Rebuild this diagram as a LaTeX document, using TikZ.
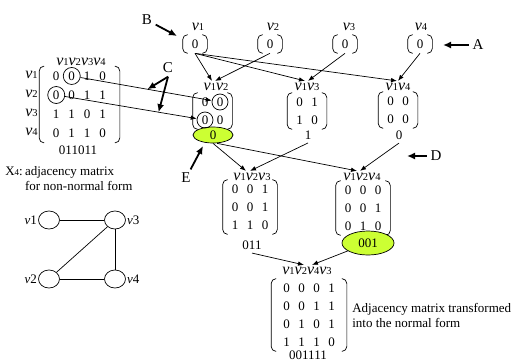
\documentclass[tikz,border=0pt]{standalone}
\usepackage{fontspec}
\setmainfont{Liberation Serif}
\usetikzlibrary{matrix,arrows.meta,shapes.geometric}
\definecolor{lime}{RGB}{204,255,51}
\newcommand{\vv}[1]{{\fontsize{16}{16}\selectfont\textit{v}}{\fontsize{10.5}{11}\selectfont #1}}

\begin{document}
\begin{tikzpicture}[x=1pt, y=-1pt, font=\fontsize{13}{15}\selectfont, line width=0.7pt,
    mat/.style={matrix of nodes, inner xsep=4.5pt, inner ysep=0pt,
      nodes={minimum width=15pt, minimum height=18pt, inner sep=0pt}},
    bracket/.style={rounded corners=5pt},
    head/.style={inner sep=2pt},
    link/.style={-{Latex[length=6pt,width=4.5pt]}},
    pointer/.style={-{Latex[length=8pt,width=7pt]}, line width=1.8pt},
    letter/.style={font=\fontsize{15}{17}\selectfont},
    hilite/.style={ellipse, draw, fill=lime, inner sep=0pt},
    ring/.style={circle, draw, minimum size=17pt, inner sep=0pt},
    vertex/.style={ellipse, draw, minimum width=21pt, minimum height=18pt, inner sep=0pt}]

  \useasboundingbox (0,0) rectangle (517,362);

  % === Non-normal adjacency matrix X4 ===
  \matrix[mat, inner xsep=9pt, nodes={minimum width=15.5pt, minimum height=19pt}] (x4) at (79.5,104.5)
    {0 & 0 & 1 & 0\\ 0 & 0 & 1 & 1\\ 1 & 1 & 0 & 1\\ 0 & 1 & 1 & 0\\};
  \node[head] (x4h) at (81,62) {\vv1\vv2\vv3\vv4};
  \foreach \r in {1,...,4}
    \node[anchor=east, inner sep=1pt] (x4r\r) at (39,{56+19*\r}) {\vv\r};
  \node (x4s) at (78,150) {011011};
  \node[anchor=west, align=left, inner sep=0pt] (x4cap) at (5,179)
    {X{\fontsize{9}{10}\selectfont 4}:\,adjacency matrix\\
     \hphantom{X{\fontsize{9}{10}\selectfont 4}:\,}for non-normal form};

  % === Graph ===
  \node[vertex] (g1) at (49,220) {};
  \node[vertex] (g3) at (115,220) {};
  \node[vertex] (g2) at (49,279) {};
  \node[vertex] (g4) at (115,279) {};
  \node[anchor=east, inner sep=1pt] at (g1.west) {\textit{v}1};
  \node[anchor=west, inner sep=1pt] at (g3.east) {\textit{v}3};
  \node[anchor=east, inner sep=1pt] at (g2.west) {\textit{v}2};
  \node[anchor=west, inner sep=1pt] at (g4.east) {\textit{v}4};
  \draw (g1) -- (g3);
  \draw (g3) -- (g2);
  \draw (g3) -- (g4);
  \draw (g2) -- (g4);

  % === Single vertices ===
  \matrix[mat] (t1) at (195,44) {0\\};
  \matrix[mat] (t2) at (270,44) {0\\};
  \matrix[mat] (t3) at (345,44) {0\\};
  \matrix[mat] (t4) at (420,44) {0\\};
  \node[head] (h1) at (198,27) {\vv1};
  \node[head] (h2) at (273,27) {\vv2};
  \node[head] (h3) at (349,27) {\vv3};
  \node[head] (h4) at (421,27) {\vv4};

  % === Pairs ===
  \matrix[mat] (m12) at (212.5,111) {0 & 0\\ 0 & 0\\};
  \matrix[mat] (m13) at (307,111) {0 & 1\\ 1 & 0\\};
  \matrix[mat] (m14) at (398,110) {0 & 0\\ 0 & 0\\};
  \node[head] (l12) at (216,87) {\vv1\vv2};
  \node[head] (l13) at (307,87) {\vv1\vv3};
  \node[head] (l14) at (398,87) {\vv1\vv4};
  \node (b13) at (308,135) {1};
  \node (b14) at (399,135) {0};

  % === Triples ===
  \matrix[mat] (m123) at (250,207) {0 & 0 & 1\\ 0 & 0 & 1\\ 1 & 1 & 0\\};
  \matrix[mat] (m124) at (363,208) {0 & 0 & 0\\ 0 & 0 & 1\\ 0 & 1 & 0\\};
  \node[head] (l123) at (252,177) {\vv1\vv2\vv3};
  \node[head] (l124) at (362,177) {\vv1\vv2\vv4};
  \node (s123) at (252,245) {011};

  % === Normal form ===
  \matrix[mat, inner xsep=7.5pt] (m1243) at (309,315)
    {0 & 0 & 0 & 1\\ 0 & 0 & 1 & 1\\ 0 & 1 & 0 & 1\\ 1 & 1 & 1 & 0\\};
  \node[head] (l1243) at (307,271) {\vv1\vv2\vv4\vv3};
  \node (s1243) at (308,355) {001111};
  \node[anchor=west, align=left, inner sep=0pt] (cap) at (352,315)
    {Adjacency matrix transformed\\into the normal form};

  % brackets round every matrix
  \foreach \m in {x4,t1,t2,t3,t4,m12,m13,m14,m123,m124,m1243} {
    \draw[bracket] ([xshift=5pt]\m.north west) -- (\m.north west)
      -- (\m.south west) -- ([xshift=5pt]\m.south west);
    \draw[bracket] ([xshift=-5pt]\m.north east) -- (\m.north east)
      -- (\m.south east) -- ([xshift=-5pt]\m.south east);
  }

  % highlighted codes
  \node[hilite, minimum width=40pt, minimum height=16pt] (e0) at (213,135) {0};
  \node[hilite, minimum width=52pt, minimum height=24pt] (e001) at (368,243) {001};

  % circled entries
  \node[ring] (xc1) at (x4-1-2) {};
  \node[ring] (xc2) at (x4-2-1) {};
  \node[ring, minimum size=16pt] (ac1) at (m12-1-2) {};
  \node[ring, minimum size=16pt] (ac2) at (m12-2-1) {};
  \draw[link] (xc1) -- coordinate[pos=0.51] (cl1) (ac1);
  \draw[link] (xc2) -- coordinate[pos=0.71] (cl2) (ac2);

  % === Connectors ===
  \draw[link] (t1.south) -- ([xshift=-4pt]l12.north);
  \draw[link] (t2.south) -- ([xshift=-1pt]l12.north);
  \draw[link] (t1.south) -- ([xshift=-2pt]l13.north);
  \draw[link] (t3.south) -- ([xshift=1pt]l13.north);
  \draw[link] (t1.south) -- ([xshift=-1pt]l14.north);
  \draw[link] (t4.south) -- (l14.north);
  \draw[link] (e0.south) -- ([xshift=-6pt]l123.north);
  \draw[link] (b13.south) -- ([xshift=-2pt]l123.north);
  \draw[link] ([xshift=4pt]e0.south) -- ([xshift=-5pt]l124.north);
  \draw[link] (b14.south) -- ([xshift=-2pt]l124.north);
  \draw[link] (s123.south) -- ([xshift=-3pt]l1243.north);
  \draw[link] (e001) -- ([xshift=5pt]l1243.north);

  % === Pointer letters ===
  \node[letter] (A) at (478,45) {A};
  \node[letter] (B) at (147,20) {B};
  \node[letter] (C) at (168,68) {C};
  \node[letter] (D) at (436,156) {D};
  \node[letter] (E) at (186,178) {E};
  \coordinate (At) at (443,45);
  \coordinate (Bt) at (177,36);
  \coordinate (Dt) at (407,156);
  \coordinate (Et) at (203,146);
  \draw[pointer] (A) -- (At);
  \draw[pointer] (B) -- (Bt);
  \draw[pointer] (C.south) -- (cl1);
  \draw[pointer] (C.south) -- (cl2);
  \draw[pointer] (D) -- (Dt);
  \draw[pointer] (E) -- (Et);

\end{tikzpicture}
\end{document}
